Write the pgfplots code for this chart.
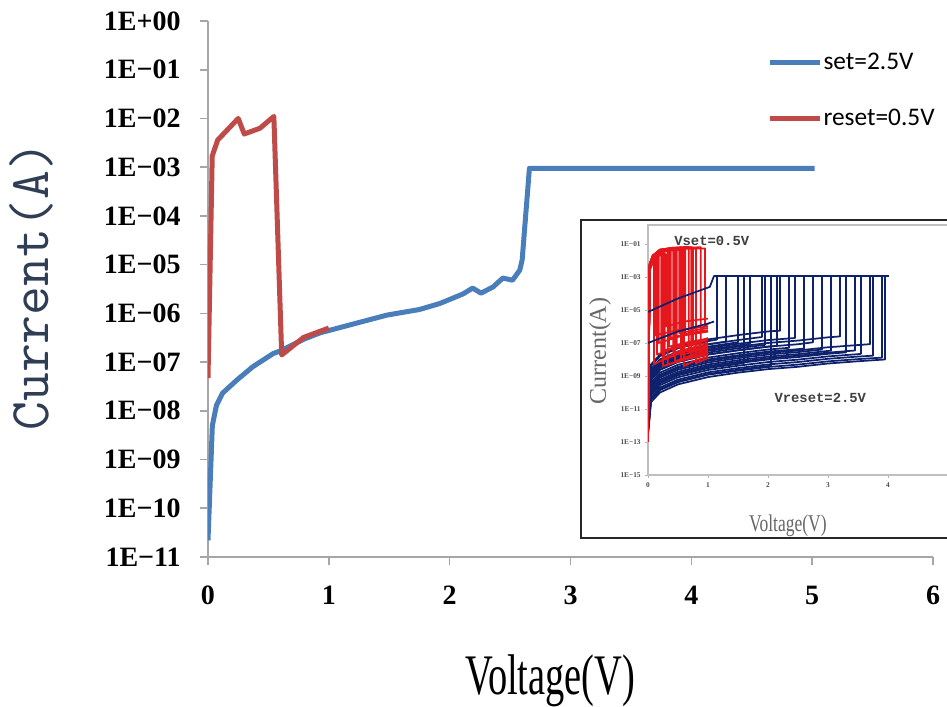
\documentclass[border=0pt]{standalone}
\usepackage{graphicx}
\usepackage{pgfplots}
\pgfplotsset{compat=1.18}
\usepackage{fontspec}
\setmainfont{Liberation Serif}
\newfontfamily\carlito{Carlito}
\newfontfamily\mono{Liberation Mono}
\definecolor{setblue}{HTML}{4A7EBB}
\definecolor{resetred}{HTML}{BE4B48}
\definecolor{navy}{HTML}{0D216C}
\definecolor{insred}{HTML}{E5161C}
\definecolor{ylab}{HTML}{2F3E55}
\begin{document}
\begin{tikzpicture}
\useasboundingbox (0pt,0pt) rectangle (710.25pt,530.25pt);
% ---------------- main axis ----------------
\begin{axis}[at={(156pt,112.5pt)}, anchor=south west, scale only axis,
  width=543.75pt, height=402pt,
  xmin=0, xmax=6, ymode=log, ymin=1e-11, ymax=1,
  axis x line=bottom, axis y line=left,
  axis line style={-, gray!70, line width=1.5pt},
  tick align=outside, major tick length=6pt,
  tick style={gray!70, line width=1.2pt},
  minor tick num=0, log basis y=10,
  xtick={0,1,2,3,4,5,6}, xticklabels={0,1,2,3,4,5,6},
  ytick={1e-11,1e-10,1e-9,1e-8,1e-7,1e-6,1e-5,1e-4,1e-3,1e-2,1e-1,1},
  yticklabels={1E−11,1E−10,1E−09,1E−08,1E−07,1E−06,1E−05,1E−04,1E−03,1E−02,1E−01,1E+00},
  tick label style={font=\fontsize{21}{21}\selectfont\bfseries, text=black},
  yticklabel style={xshift=-11pt},
  xticklabel style={yshift=-12pt},
  ylabel={Current(A)},
  ylabel style={at={(rel axis cs:-0.243,0.505)}, anchor=center, font=\ttfamily\fontsize{42}{42}\selectfont, text=ylab},
  xlabel={\scalebox{0.67}[1]{Voltage(V)}},
  xlabel style={at={(rel axis cs:0.472,-0.257)}, anchor=base, font=\fontsize{43}{43}\selectfont},
  legend style={at={(rel axis cs:0.771,0.943)}, anchor=north west, draw=none, fill=none,
    font=\carlito\fontsize{19}{19}\selectfont, row sep=26pt, inner sep=0pt,
    nodes={inner sep=1pt}, /tikz/every even column/.append style={column sep=0pt}},
  legend cell align=left,
  legend image code/.code={\draw[#1] (0pt,0pt) -- (37.5pt,0pt);},
]
\addplot[setblue, line width=3.75pt, line join=round] coordinates {
(0,2.2e-11) (0.036,5e-9) (0.07,1.3e-8) (0.12,2.3e-8) (0.24,4.3e-8) (0.37,8e-8)
(0.54,1.5e-7) (0.6,1.7e-7) (0.8,3.0e-7) (0.93,4e-7) (1.26,6.6e-7) (1.48,9.2e-7)
(1.75,1.2e-6) (1.92,1.6e-6) (2.11,2.5e-6) (2.19,3.3e-6) (2.26,2.6e-6) (2.36,3.5e-6)
(2.44,5.3e-6) (2.52,4.8e-6) (2.58,7.7e-6) (2.6,1.25e-5) (2.66,9.5e-4) (5.02,9.5e-4)};
\addlegendentry{set=2.5V}
\addplot[resetred, line width=3.75pt, line join=round] coordinates {
(0,4.7e-8) (0.035,1.7e-3) (0.08,3.6e-3) (0.25,1e-2) (0.3,4.8e-3) (0.43,6.3e-3)
(0.545,1.1e-2) (0.61,1.4e-7) (0.79,3.2e-7) (1.0,5e-7)};
\addlegendentry{reset=0.5V}
\end{axis}
% ---------------- inset frame ----------------
\draw[black!85, line width=1.5pt, fill=white] (435.75pt,126.75pt) rectangle (800pt,365.25pt);
% ---------------- inset axis ----------------
\begin{axis}[at={(486pt,174pt)}, anchor=south west, scale only axis,
  width=247.5pt, height=187.5pt,
  xmin=0, xmax=5.5, ymode=log, ymin=1e-15, ymax=1.41,
  axis line style={gray!50, line width=0.8pt},
  tick style={gray!60, line width=0.5pt}, major tick length=2pt, tick align=outside,
  xtick pos=bottom, ytick pos=left, minor tick num=0,
  xtick={0,1,2,3,4}, xticklabels={0,1,2,3,4},
  ytick={1e-15,1e-13,1e-11,1e-9,1e-7,1e-5,1e-3,1e-1},
  yticklabels={1E−15,1E−13,1E−11,1E−09,1E−07,1E−05,1E−03,1E−01},
  tick label style={font=\fontsize{5.5}{5.5}\selectfont\bfseries, text=black!70},
  ylabel={Current(A)},
  ylabel style={at={(rel axis cs:-0.145,0.496)}, anchor=center, font=\fontsize{18}{18}\selectfont, text=black!60},
  xlabel={\scalebox{0.73}[1]{Voltage(V)}},
  xlabel style={at={(rel axis cs:0.424,-0.228)}, anchor=base, font=\fontsize{18}{18}\selectfont, text=black!60},
]
\pgfplotsset{every axis plot/.append style={line width=1.3pt, line join=round}}
% blue set sweeps
\addplot[navy] coordinates {(0,2.6e-13)(0.05,2.6e-11)(0.2,1e-10)(0.5,3.1e-10)(1,8.6e-10)(1.5,1.6e-9)(2,2.6e-9)(2.5,3.6e-9)(3,5.7e-9)(3.5,7.8e-9)(3.95,1e-8)(3.95,1.15e-3)(4,1.15e-3)};
\addplot[navy] coordinates {(0,3.5e-13)(0.05,3.5e-11)(0.2,1.4e-10)(0.5,4.2e-10)(1,1.2e-9)(1.5,2.1e-9)(2,3.5e-9)(2.5,4.9e-9)(3,7.7e-9)(3.5,1.05e-8)(3.9,1.3e-8)(3.9,1.15e-3)(4,1.15e-3)};
\addplot[navy] coordinates {(0,5e-13)(0.05,5e-11)(0.2,2e-10)(0.5,6e-10)(1,1.65e-9)(1.5,3e-9)(2,5e-9)(2.5,7e-9)(3,1.1e-8)(3.5,1.5e-8)(3.75,1.7e-8)(3.75,1.15e-3)(4,1.15e-3)};
\addplot[navy] coordinates {(0,7e-13)(0.05,7e-11)(0.2,2.8e-10)(0.5,8.4e-10)(1,2.3e-9)(1.5,4.2e-9)(2,7e-9)(2.5,9.8e-9)(3,1.54e-8)(3.5,2.1e-8)(3.55,2.2e-8)(3.55,1.15e-3)(4,1.15e-3)};
\addplot[navy] coordinates {(0,1e-12)(0.05,1e-10)(0.2,4e-10)(0.5,1.2e-9)(1,3.3e-9)(1.5,6e-9)(2,1e-8)(2.5,1.4e-8)(3,2.2e-8)(3.3,2.7e-8)(3.3,1.15e-3)(4,1.15e-3)};
\addplot[navy] coordinates {(0,1.5e-12)(0.05,1.5e-10)(0.2,6e-10)(0.5,1.8e-9)(1,5e-9)(1.5,9e-9)(2,1.5e-8)(2.5,2.1e-8)(3,3.3e-8)(3.05,3.4e-8)(3.05,1.15e-3)(4,1.15e-3)};
\addplot[navy] coordinates {(0,2e-12)(0.05,2e-10)(0.2,8e-10)(0.5,2.4e-9)(1,6.6e-9)(1.5,1.2e-8)(2,2e-8)(2.5,2.8e-8)(2.9,4e-8)(2.9,1.15e-3)(4,1.15e-3)};
\addplot[navy] coordinates {(0,3e-12)(0.05,3e-10)(0.2,1.2e-9)(0.5,3.6e-9)(1,1e-8)(1.5,1.8e-8)(2,3e-8)(2.5,4.2e-8)(2.6,4.6e-8)(2.6,1.15e-3)(4,1.15e-3)};
\addplot[navy] coordinates {(0,4e-12)(0.05,4e-10)(0.2,1.6e-9)(0.5,4.8e-9)(1,1.3e-8)(1.5,2.4e-8)(2,4e-8)(2.35,5.1e-8)(2.35,1.15e-3)(4,1.15e-3)};
\addplot[navy] coordinates {(0,6e-12)(0.05,6e-10)(0.2,2.4e-9)(0.5,7.2e-9)(1,2e-8)(1.5,3.6e-8)(2,6e-8)(2.15,6.7e-8)(2.15,1.15e-3)(4,1.15e-3)};
\addplot[navy] coordinates {(0,8e-12)(0.05,8e-10)(0.2,3.2e-9)(0.5,9.6e-9)(1,2.6e-8)(1.5,4.8e-8)(1.95,7.7e-8)(1.95,1.15e-3)(4,1.15e-3)};
\addplot[navy] coordinates {(0,1.2e-11)(0.05,1.2e-9)(0.2,4.8e-9)(0.5,1.44e-8)(1,4e-8)(1.5,7.2e-8)(1.7,9e-8)(1.7,1.15e-3)(4,1.15e-3)};
\addplot[navy] coordinates {(0,1.8e-11)(0.05,1.8e-9)(0.2,7.2e-9)(0.5,2.2e-8)(1,6e-8)(1.5,1.1e-7)(1.5,1.15e-3)(4,1.15e-3)};
\addplot[navy] coordinates {(0,2.5e-11)(0.05,2.5e-9)(0.2,1e-8)(0.5,3e-8)(1,8.3e-8)(1.3,1.2e-7)(1.3,1.15e-3)(4,1.15e-3)};
\addplot[navy] coordinates {(0,4e-11)(0.05,4e-9)(0.2,1.6e-8)(0.5,4.8e-8)(1,1.3e-7)(1.15,1.6e-7)(1.15,1.15e-3)(4,1.15e-3)};
\addplot[navy] coordinates {(0,1.2e-12)(0.05,1.2e-10)(0.2,4.8e-10)(0.5,1.44e-9)(1,4e-9)(1.5,7.2e-9)(2,1.2e-8)(2.5,1.7e-8)(3,2.6e-8)(3.45,3.5e-8)(3.45,1.15e-3)(4,1.15e-3)};
\addplot[navy] coordinates {(0,4e-13)(0.05,4e-11)(0.2,1.6e-10)(0.5,4.8e-10)(1,1.3e-9)(1.5,2.4e-9)(2,4e-9)(2.05,4.1e-9)(2.05,1.15e-3)(4,1.15e-3)};
\addplot[navy] coordinates {(0,9e-13)(0.05,9e-11)(0.2,3.6e-10)(0.5,1.1e-9)(1,3e-9)(1.5,5.4e-9)(1.6,6.2e-9)(1.6,1.15e-3)(4,1.15e-3)};
\addplot[navy] coordinates {(0,2.5e-12)(0.05,2.5e-10)(0.2,1e-9)(0.5,3e-9)(1,8.3e-9)(1.5,1.5e-8)(2,2.5e-8)(2.5,3.5e-8)(3,5.5e-8)(3.5,7.5e-8)(3.7,8.5e-8)(3.7,1.15e-3)(4,1.15e-3)};
\addplot[navy] coordinates {(0,6e-12)(0.05,6e-10)(0.2,2.4e-9)(0.5,7.2e-9)(1,2e-8)(1.5,3.6e-8)(2,6e-8)(2.5,8.4e-8)(2.75,1.1e-7)(2.75,1.15e-3)(4,1.15e-3)};
\addplot[navy] coordinates {(0,1e-11)(0.05,1e-9)(0.2,4e-9)(0.5,1.2e-8)(1,3.3e-8)(1.5,6e-8)(2,1e-7)(2.5,1.4e-7)(3,2.2e-7)(3.2,2.5e-7)(3.2,1.15e-3)(4,1.15e-3)};
\addplot[navy] coordinates {(0,1.5e-11)(0.05,1.5e-9)(0.2,6e-9)(0.5,1.8e-8)(1,5e-8)(1.5,9e-8)(2,1.5e-7)(2.45,2e-7)(2.45,1.15e-3)(4,1.15e-3)};
\addplot[navy] coordinates {(0,2.5e-11)(0.05,2.5e-9)(0.2,1e-8)(0.5,3e-8)(1,8.3e-8)(1.5,1.5e-7)(1.9,2.3e-7)(1.9,1.15e-3)(4,1.15e-3)};
\addplot[navy] coordinates {(0,5e-11)(0.05,5e-9)(0.2,2e-8)(0.5,6e-8)(1,1.65e-7)(1.5,3e-7)(2,5e-7)(2.2,5.6e-7)(2.2,1.15e-3)(4,1.15e-3)};
% red reset sweeps
\addplot[insred] coordinates {(0,1e-11)(0.03,2.5e-3)(0.08,7.5e-3)(0.12,1.2e-2)(0.12,3e-7)(0.5,6e-7)(1,1e-6)};
\addplot[insred] coordinates {(0,3e-12)(0.03,4e-3)(0.08,1.2e-2)(0.18,2.6e-2)(0.18,1e-7)(0.6,3e-7)(1,5e-7)};
\addplot[insred] coordinates {(0,1e-12)(0.03,5e-3)(0.08,1.5e-2)(0.2,3.5e-2)(0.22,3.6e-2)(0.22,3e-8)(0.6,9e-8)(1,1.5e-7)};
\addplot[insred] coordinates {(0,5e-11)(0.03,3.5e-3)(0.08,1e-2)(0.2,2.5e-2)(0.28,2.8e-2)(0.28,1e-8)(0.6,3e-8)(1,5e-8)};
\addplot[insred] coordinates {(0,2e-13)(0.03,6e-3)(0.08,1.8e-2)(0.2,4.2e-2)(0.33,5e-2)(0.33,5e-9)(0.7,1.2e-8)(1,2e-8)};
\addplot[insred] coordinates {(0,1e-10)(0.03,4.5e-3)(0.08,1.35e-2)(0.2,3.2e-2)(0.38,4e-2)(0.38,2e-7)(0.7,4e-7)(1,6e-7)};
\addplot[insred] coordinates {(0,5e-13)(0.03,6.5e-3)(0.08,2e-2)(0.2,4.5e-2)(0.42,5.8e-2)(0.42,2e-8)(0.7,5e-8)(1,8e-8)};
\addplot[insred] coordinates {(0,2e-12)(0.03,5e-3)(0.08,1.5e-2)(0.2,3.5e-2)(0.4,4.5e-2)(0.48,4.7e-2)(0.48,5e-8)(0.8,1e-7)(1,1.5e-7)};
\addplot[insred] coordinates {(0,1e-13)(0.03,6.5e-3)(0.08,2e-2)(0.2,4.5e-2)(0.4,5.8e-2)(0.55,6.3e-2)(0.55,1e-8)(0.8,2.5e-8)(1,4e-8)};
\addplot[insred] coordinates {(0,1e-11)(0.03,5.5e-3)(0.08,1.65e-2)(0.2,3.8e-2)(0.4,5e-2)(0.6,5.5e-2)(0.6,4e-9)(0.8,9e-9)(1,1.5e-8)};
\addplot[insred] coordinates {(0,3e-12)(0.03,6.5e-3)(0.08,2e-2)(0.2,4.5e-2)(0.4,5.8e-2)(0.6,6.5e-2)(0.68,6.6e-2)(0.68,3e-8)(1,7e-8)};
\addplot[insred] coordinates {(0,5e-12)(0.03,6e-3)(0.08,1.8e-2)(0.2,4.2e-2)(0.4,5.4e-2)(0.6,6e-2)(0.75,6.2e-2)(0.75,1e-7)(1,2e-7)};
\addplot[insred] coordinates {(0,2e-11)(0.03,5.5e-3)(0.08,1.65e-2)(0.2,3.8e-2)(0.4,5e-2)(0.6,5.5e-2)(0.8,5.7e-2)(0.8,6e-9)(1,1.2e-8)};
\addplot[insred] coordinates {(0,8e-13)(0.03,6e-3)(0.08,1.8e-2)(0.2,4.2e-2)(0.4,5.4e-2)(0.6,6e-2)(0.8,6.2e-2)(0.88,6.4e-2)(0.88,2e-8)(1,3.5e-8)};
\addplot[insred] coordinates {(0,1e-9)(0.03,5e-3)(0.08,1.5e-2)(0.2,3.5e-2)(0.4,4.5e-2)(0.6,5e-2)(0.8,5.2e-2)(0.95,5.4e-2)(0.95,1e-6)(1,1.5e-6)};
\addplot[insred] coordinates {(0,1e-8)(0.03,3e-3)(0.08,9e-3)(0.2,2.1e-2)(0.3,2.4e-2)(0.3,1e-6)(0.6,2e-6)(1,3e-6)};
\addplot[insred] coordinates {(0,1e-12)(0.03,5e-3)(0.08,1.5e-2)(0.1,1.7e-2)(0.1,5e-9)(0.5,3e-8)(1,6e-8)};
\addplot[insred] coordinates {(0,4e-12)(0.03,4.5e-3)(0.08,1.35e-2)(0.2,3.2e-2)(0.4,4e-2)(0.62,4.5e-2)(0.62,3e-7)(1,5e-7)};
\addplot[insred] coordinates {(0,6e-12)(0.03,5e-3)(0.08,1.5e-2)(0.15,2.4e-2)(0.15,2e-8)(0.5,6e-8)(1,1e-7)};
\addplot[insred] coordinates {(0,2e-11)(0.03,5.5e-3)(0.08,1.6e-2)(0.2,3.6e-2)(0.25,3.9e-2)(0.25,4e-9)(0.6,1e-8)(1,2e-8)};
\addplot[insred] coordinates {(0,7e-12)(0.03,6e-3)(0.08,1.8e-2)(0.2,4e-2)(0.35,4.8e-2)(0.35,6e-8)(0.7,1.2e-7)(1,1.8e-7)};
\addplot[insred] coordinates {(0,3e-11)(0.03,6.5e-3)(0.08,1.9e-2)(0.2,4.4e-2)(0.4,5.5e-2)(0.45,5.7e-2)(0.45,8e-9)(0.8,1.8e-8)(1,2.5e-8)};
\addplot[insred] coordinates {(0,2e-10)(0.03,5e-3)(0.08,1.5e-2)(0.2,3.5e-2)(0.4,4.6e-2)(0.52,5e-2)(0.52,4e-7)(1,8e-7)};
\addplot[insred] coordinates {(0,6e-13)(0.03,5.5e-3)(0.08,1.7e-2)(0.2,4e-2)(0.4,5.2e-2)(0.58,5.8e-2)(0.58,2e-8)(1,5e-8)};
\addplot[insred] coordinates {(0,4e-11)(0.03,6e-3)(0.08,1.8e-2)(0.2,4.2e-2)(0.4,5.4e-2)(0.6,6e-2)(0.72,6.3e-2)(0.72,1.5e-8)(1,3e-8)};
% blue high-state reset lines on top
\addplot[navy] coordinates {(0,7.6e-6)(0.5,5e-5)(1.03,2.5e-4)(1.1,1.15e-3)(4,1.15e-3)};
\addplot[navy] coordinates {(0,1e-7)(0.5,5e-7)(1,1.5e-6)(1.1,2e-6)};
\node[anchor=west, font=\mono\bfseries\fontsize{10.4}{10.4}\selectfont, text=black!75] at (axis cs:0.36,1.5e-1) {Vset=0.5V};
\node[anchor=west, font=\mono\bfseries\fontsize{10.4}{10.4}\selectfont, text=black!75] at (axis cs:2.03,5e-11) {Vreset=2.5V};
\end{axis}
\end{tikzpicture}
\end{document}
